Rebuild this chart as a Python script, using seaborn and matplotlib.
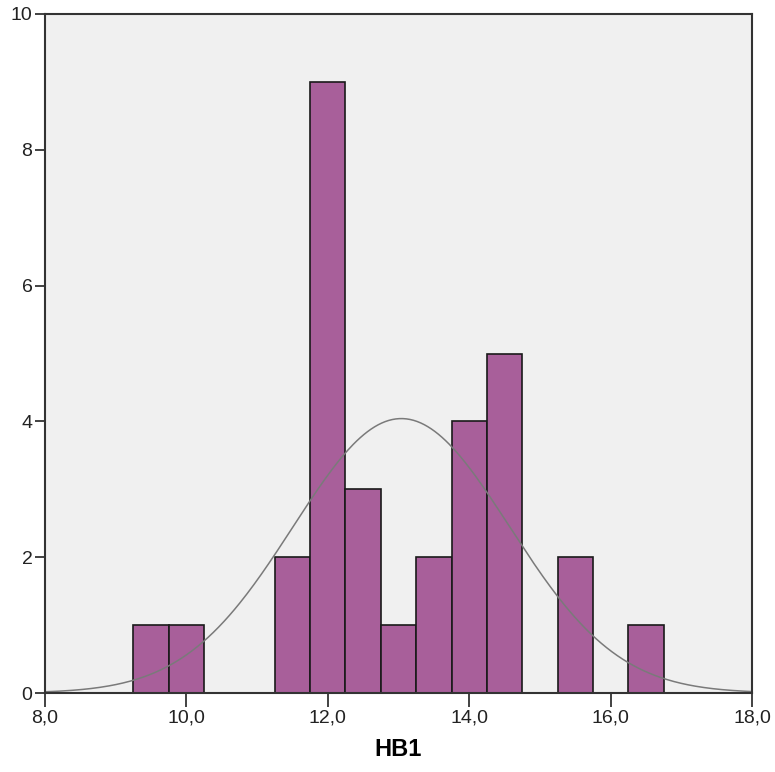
import numpy as np
import pandas as pd
import seaborn as sns
import matplotlib.pyplot as plt

# Histogram bins (width 0.5) and counts
bin_edges = [9.25, 9.75, 10.25, 10.75, 11.25, 11.75, 12.25, 12.75,
             13.25, 13.75, 14.25, 14.75, 15.25, 15.75, 16.25, 16.75]
counts = [1, 1, 0, 0, 2, 9, 3, 1, 2, 4, 5, 0, 2, 0, 1]

# Fitted normal curve parameters
hb_mean = 13.04
hb_sd = 1.53
hb_n = sum(counts)

x_ticks = [8, 10, 12, 14, 16, 18]
x_tick_labels = ['8,0', '10,0', '12,0', '14,0', '16,0', '18,0']
y_ticks = [0, 2, 4, 6, 8, 10]

sns.set_style('white')
plt.rcParams['font.family'] = ['Liberation Sans', 'DejaVu Sans']

df = pd.DataFrame({
    'HB1': [(a + b) / 2 for a, b in zip(bin_edges[:-1], bin_edges[1:])],
    'count': counts,
})

fig = plt.figure(figsize=(7.75, 7.72), dpi=100)
ax = fig.add_axes([45 / 775, 79 / 772, 707 / 775, 679 / 772])
ax.set_facecolor('#f0f0f0')

sns.histplot(data=df, x='HB1', weights='count', bins=bin_edges,
             color='#a85f9a', alpha=1, edgecolor='#1a1a1a', linewidth=1.2, ax=ax)

# normal curve scaled to counts
xs = np.linspace(8, 18, 400)
bw = bin_edges[1] - bin_edges[0]
ys = hb_n * bw * np.exp(-0.5 * ((xs - hb_mean) / hb_sd) ** 2) / (hb_sd * np.sqrt(2 * np.pi))
sns.lineplot(x=xs, y=ys, color='#7a7a7a', linewidth=1.1, ax=ax)

ax.set_xlim(8, 18)
ax.set_ylim(0, 10)
ax.set_xticks(x_ticks)
ax.set_xticklabels(x_tick_labels)
ax.set_yticks(y_ticks)
ax.tick_params(axis='both', direction='out', width=1.3, color='#333333',
               bottom=True, left=True, labelsize=14, labelcolor='#222222', pad=2)
ax.tick_params(axis='x', length=10)
ax.tick_params(axis='y', length=7)
for s in ax.spines.values():
    s.set_visible(True)
    s.set_color('#333333')
    s.set_linewidth(1.5)

ax.set_xlabel('HB1', fontsize=17, fontweight='bold', color='black', labelpad=8)
ax.set_ylabel('')

fig.savefig('out.png', dpi=100)
